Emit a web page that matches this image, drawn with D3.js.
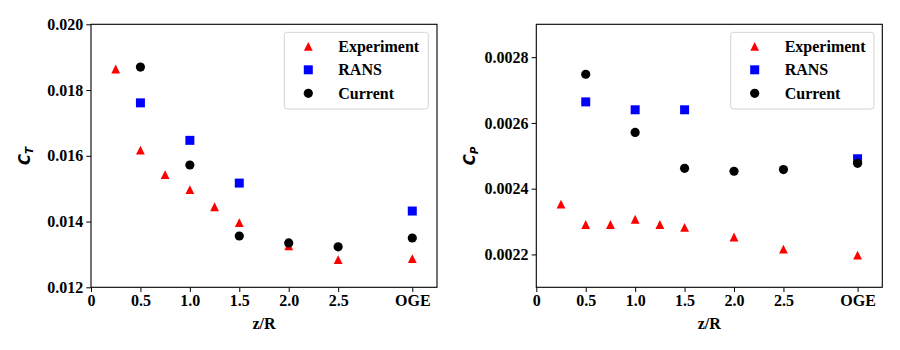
<!DOCTYPE html>
<html>
<head>
<meta charset="utf-8">
<script src="https://cdn.jsdelivr.net/npm/d3@7"></script>
<style>
  body { margin: 0; background: #fff; }
</style>
</head>
<body>
<svg width="900" height="350"></svg>
<script>
// x positions (z/R), OGE drawn at 3.25
var xTicks = [0, 0.5, 1.0, 1.5, 2.0, 2.5, 3.25];
var xTickLabels = ["0", "0.5", "1.0", "1.5", "2.0", "2.5", "OGE"];

var expX = [0.25, 0.5, 0.75, 1.0, 1.25, 1.5, 2.0, 2.5, 3.25];
var ransX = [0.5, 1.0, 1.5, 3.25];
var curX = [0.5, 1.0, 1.5, 2.0, 2.5, 3.25];

// thrust coefficient
var ctExp = [0.01864, 0.01617, 0.01543, 0.01497, 0.01445, 0.01397, 0.01326, 0.01284, 0.01287];
var ctRans = [0.01761, 0.01647, 0.01517, 0.01432];
var ctCur = [0.01870, 0.01572, 0.01356, 0.01335, 0.01323, 0.01350];
var ctTicks = [0.012, 0.014, 0.016, 0.018, 0.020];

// power coefficient
var cpExp = [0.002353, 0.002291, 0.002291, 0.002307, 0.002291, 0.002282, 0.002253, 0.002216, 0.002198];
var cpRans = [0.002664, 0.002640, 0.002640, 0.002491];
var cpCur = [0.002748, 0.002571, 0.002462, 0.002453, 0.002458, 0.002477];
var cpTicks = [0.0022, 0.0024, 0.0026, 0.0028];

var seriesNames = ["Experiment", "RANS", "Current"];

var SERIF = "'Liberation Serif', 'Times New Roman', Times, 'DejaVu Serif', serif";

var svg = d3.select("svg");

// marker shapes
function tri(s) { return "M0," + (-s) + "L" + s + "," + s + "L" + (-s) + "," + s + "Z"; }
function sq(s) { return "M" + (-s) + "," + (-s) + "h" + (2 * s) + "v" + (2 * s) + "h" + (-2 * s) + "Z"; }
var markers = [
  { d: tri(4.4), fill: "#ff0000" },
  { d: sq(4.5), fill: "#0000ff" },
  { d: d3.symbol().type(d3.symbolCircle).size(Math.PI * 4.6 * 4.6)(), fill: "#000" }
];

function panel(opt) {
  var x = d3.scaleLinear().domain([0, 3.5]).range([opt.left, opt.left + 346]);
  var y = d3.scaleLinear().domain(opt.yDomain).range([287.3, 24.3]);
  var g = svg.append("g");

  // axes
  var xAxis = d3.axisBottom(x).tickValues(xTicks)
    .tickFormat(function(d, i) { return xTickLabels[i]; })
    .tickSize(4.7).tickPadding(3);
  var yAxis = d3.axisLeft(y).tickValues(opt.yTicks)
    .tickFormat(d3.format(opt.fmt)).tickSize(4.7).tickPadding(3);

  var gx = g.append("g").attr("transform", "translate(0,287.3)").call(xAxis);
  var gy = g.append("g").attr("transform", "translate(" + opt.left + ",0)").call(yAxis);
  [gx, gy].forEach(function(a) {
    a.attr("font-family", null).attr("font-size", null);
    a.select(".domain").remove();
    a.selectAll("line").attr("stroke", "#000").attr("stroke-width", 1);
    a.selectAll("text").attr("fill", "#000").attr("font-size", 16)
      .attr("font-family", SERIF).attr("font-weight", "bold");
  });

  // frame
  g.append("rect").attr("x", x(0)).attr("y", y.range()[1])
    .attr("width", x(3.5) - x(0)).attr("height", y.range()[0] - y.range()[1])
    .attr("fill", "none").attr("stroke", "#000").attr("stroke-width", 1.1);

  // points
  var sets = [[expX, opt.exp], [ransX, opt.rans], [curX, opt.cur]];
  sets.forEach(function(s, k) {
    g.append("g").selectAll("path")
      .data(s[0].map(function(v, i) { return [v, s[1][i]]; }))
      .enter().append("path")
      .attr("d", markers[k].d)
      .attr("fill", markers[k].fill)
      .attr("transform", function(d) { return "translate(" + x(d[0]) + "," + y(d[1]) + ")"; });
  });

  // legend
  var lg = g.append("g").attr("transform", "translate(" + opt.legX + ",32.3)");
  lg.append("rect").attr("width", opt.legW).attr("height", 76.7).attr("rx", 3)
    .attr("fill", "#fff").attr("fill-opacity", 0.8)
    .attr("stroke", "#d4d4d4").attr("stroke-width", 1);
  seriesNames.forEach(function(n, k) {
    var row = lg.append("g").attr("transform", "translate(0," + (14 + k * 23.5) + ")");
    row.append("path").attr("d", markers[k].d).attr("fill", markers[k].fill)
      .attr("transform", "translate(24,0)");
    row.append("text").attr("x", 54).attr("y", 5.5)
      .attr("font-family", SERIF).attr("font-weight", "bold").attr("font-size", 16).text(n);
  });

  // axis titles
  g.append("text").attr("x", x(1.75)).attr("y", 329).attr("text-anchor", "middle")
    .attr("font-family", SERIF).attr("font-weight", "bold").attr("font-size", 16).text("z/R");
  var yl = g.append("text")
    .attr("transform", "translate(" + opt.labX + ",155.8) rotate(-90)")
    .attr("text-anchor", "middle")
    .attr("font-family", "'DejaVu Sans', sans-serif").attr("font-style", "italic")
    .attr("font-weight", "bold").attr("font-size", 15);
  yl.append("tspan").text("C");
  yl.append("tspan").attr("dy", 3).attr("font-size", 10.5).text(opt.sub);
}

panel({ left: 91, yDomain: [0.012, 0.020], yTicks: ctTicks, fmt: ".3f",
  exp: ctExp, rans: ctRans, cur: ctCur, legX: 284.3, legW: 144, labX: 30, sub: "T" });
panel({ left: 536.3, yDomain: [0.0021, 0.0029], yTicks: cpTicks, fmt: ".4f",
  exp: cpExp, rans: cpRans, cur: cpCur, legX: 730.7, legW: 143.3, labX: 474.5, sub: "P" });
</script>
</body>
</html>
